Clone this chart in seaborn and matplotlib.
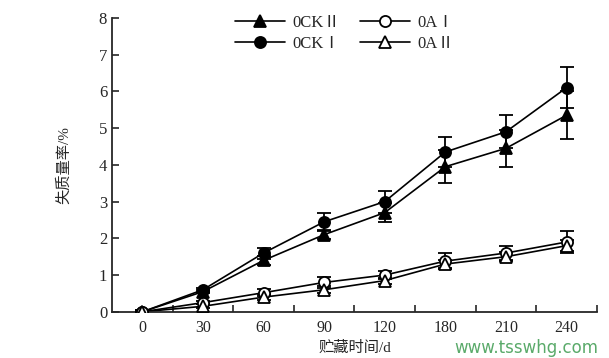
import numpy as np
import pandas as pd
import matplotlib
matplotlib.use("Agg")
import matplotlib.pyplot as plt
from matplotlib.lines import Line2D
import seaborn as sns

days = ["0", "30", "60", "90", "120", "180", "210", "240"]
series = ["0CKⅡ", "0CKⅠ", "0AⅠ", "0AⅡ"]

ck2 = [0.0, 0.55, 1.40, 2.10, 2.70, 3.95, 4.45, 5.35]
ck1 = [0.0, 0.60, 1.60, 2.45, 3.00, 4.35, 4.90, 6.10]
a1 = [0.0, 0.25, 0.52, 0.80, 1.00, 1.38, 1.60, 1.90]
a2 = [0.0, 0.15, 0.40, 0.60, 0.85, 1.30, 1.50, 1.80]

ck2_err = [0.05, 0.05, 0.12, 0.12, 0.25, 0.45, 0.50, 0.65]
ck1_err = [0.05, 0.06, 0.15, 0.25, 0.30, 0.40, 0.45, 0.55]
a1_err = [0.03, 0.05, 0.10, 0.15, 0.10, 0.22, 0.20, 0.30]
a2_err = [0.03, 0.05, 0.08, 0.10, 0.08, 0.12, 0.12, 0.15]

values = [ck2, ck1, a1, a2]
errors = [ck2_err, ck1_err, a1_err, a2_err]

styles = {
    "0CKⅡ": dict(marker="^", mfc="black"),
    "0CKⅠ": dict(marker="o", mfc="black"),
    "0AⅠ": dict(marker="o", mfc="white"),
    "0AⅡ": dict(marker="^", mfc="white"),
}

pos = np.arange(len(days))
df = pd.DataFrame({
    "pos": np.tile(pos, len(series)),
    "val": np.concatenate(values),
    "err": np.concatenate(errors),
    "series": np.repeat(series, len(days)),
})

sns.set_style("ticks")
plt.rcParams["font.family"] = ["Liberation Serif", "Noto Sans CJK SC"]
plt.rcParams["font.size"] = 11

fig = plt.figure(figsize=(6.09, 3.58), dpi=100)
ax = fig.add_axes([0.184, 0.129, 0.796, 0.821])

sns.lineplot(data=df, x="pos", y="val", hue="series", palette=["black"] * 4,
             legend=False, ax=ax, linewidth=1.2)

for name in series:
    sub = df[df["series"] == name]
    st = styles[name]
    ax.errorbar(sub["pos"], sub["val"], yerr=sub["err"], fmt="none",
                ecolor="black", elinewidth=1.3, capsize=5, capthick=1.3, zorder=3)
    ax.plot(sub["pos"], sub["val"], linestyle="none", marker=st["marker"],
            markersize=8, markerfacecolor=st["mfc"], markeredgecolor="black",
            markeredgewidth=1.3, zorder=4)

ax.set_xlim(-0.5, len(days) - 0.5)
ax.set_ylim(0, 8)
ax.set_xticks(pos)
ax.set_xticklabels(days)
ax.set_xticks(np.arange(len(days)) + 0.5, minor=True)
ax.tick_params(axis="x", which="major", length=0, labelsize=11.5, pad=6)
ax.tick_params(axis="x", which="minor", direction="in", length=5, width=1.2)
ax.tick_params(axis="y", direction="in", length=5, width=1.2, labelsize=12)
for s in ["left", "bottom"]:
    ax.spines[s].set_linewidth(1.3)
sns.despine(ax=ax)

ax.set_xlabel("贮藏时间/d", fontsize=11, labelpad=3)
ax.set_ylabel("失质量率/%", fontsize=11, labelpad=20)

handles = [Line2D([0], [0], color="black", linewidth=1.2, marker=styles[n]["marker"],
                  markersize=8, markerfacecolor=styles[n]["mfc"],
                  markeredgecolor="black", markeredgewidth=1.3) for n in series]
fig.legend(handles, series, ncol=2, frameon=False, loc="upper center",
           bbox_to_anchor=(0.566, 1.0), handlelength=3.0, handletextpad=0.4,
           columnspacing=1.2, labelspacing=0.3, fontsize=12)

fig.text(0.982, 0.004, "www.tsswhg.com", color="#5aaa6a", fontsize=12,
         ha="right", va="bottom", family=["DejaVu Sans"])

fig.savefig("out.png", dpi=100, facecolor="white")
